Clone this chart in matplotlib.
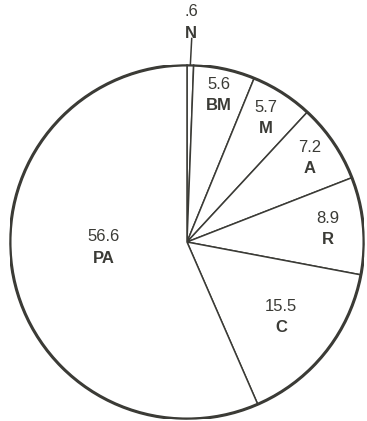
import numpy as np
import matplotlib.pyplot as plt
from matplotlib.patches import Circle

# Share of each category (percent), clockwise from the top
labels = ['N', 'BM', 'M', 'A', 'R', 'C', 'PA']
values = [0.6, 5.6, 5.7, 7.2, 8.9, 15.5, 56.6]
value_text = ['.6', '5.6', '5.7', '7.2', '8.9', '15.5', '56.6']

# Label placement: radius as a fraction of the pie, plus an angle nudge in degrees
label_r = [1.24, 0.85, 0.83, 0.84, 0.80, 0.68, 0.47]
label_nudge = [0, 0, 0, 0, 0, 0, -8]

ink = '#3b3b36'
plt.rcParams['font.family'] = ['Liberation Sans', 'DejaVu Sans']

fig = plt.figure(figsize=(3.67, 4.21), dpi=100)
fig.patch.set_facecolor('white')
ax = fig.add_axes([10 / 367, 2 / 421, 354 / 367, 354 / 421])

wedges, _ = ax.pie(values, startangle=90, counterclock=False, radius=1,
                   wedgeprops=dict(facecolor='white', edgecolor=ink, linewidth=1.1))
ax.add_patch(Circle((0, 0), 1, fill=False, edgecolor=ink, linewidth=2.2, zorder=3))

for w, lab, vt, r, nudge in zip(wedges, labels, value_text, label_r, label_nudge):
    ang = np.deg2rad((w.theta1 + w.theta2) / 2 + nudge)
    x, y = r * np.cos(ang), r * np.sin(ang)
    ax.text(x, y + 0.06, vt, ha='center', va='center', fontsize=12, color=ink)
    ax.text(x, y - 0.06, lab, ha='center', va='center', fontsize=12,
            fontweight='bold', color=ink)

# Leader line for the thin N slice
n = wedges[0]
ang = np.deg2rad((n.theta1 + n.theta2) / 2)
ax.plot([np.cos(ang), 1.15 * np.cos(ang) + 0.005], [np.sin(ang), 1.15 * np.sin(ang)],
        color=ink, linewidth=1.1, clip_on=False)

ax.set_xlim(-1, 1)
ax.set_ylim(-1, 1)
ax.set_aspect('equal')
ax.axis('off')

fig.savefig('out.png', dpi=100, facecolor='white')
